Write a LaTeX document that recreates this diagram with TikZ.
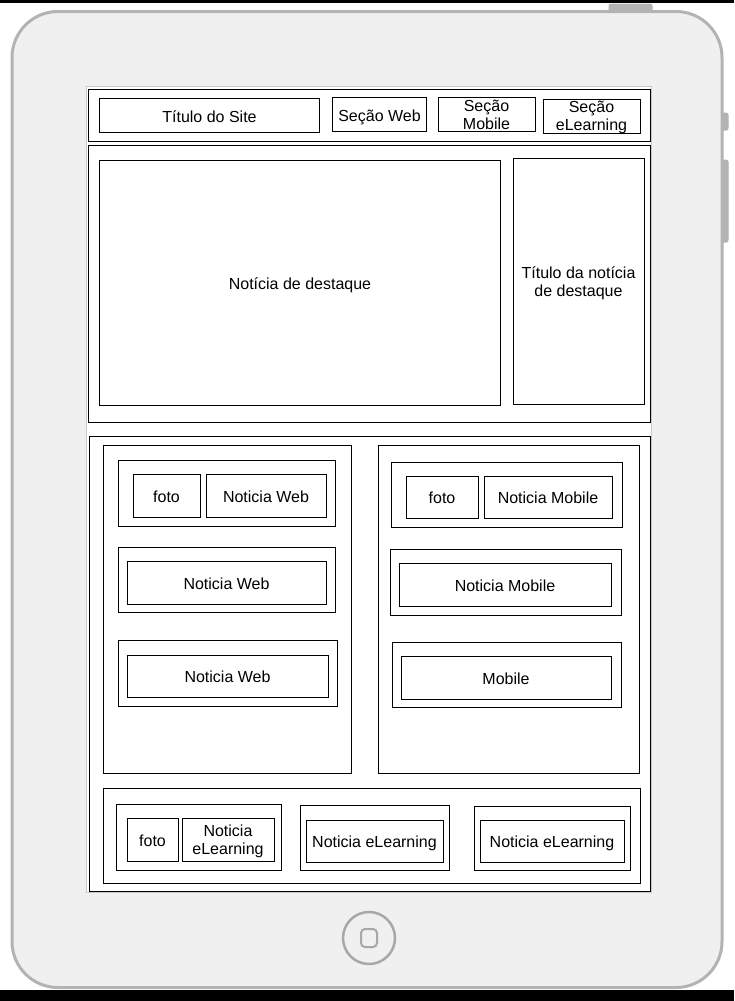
\documentclass[tikz,border=0pt]{standalone}
\usepackage{fontspec}
\setmainfont{Liberation Sans}
\usetikzlibrary{positioning}

\definecolor{padfill}{HTML}{F0F0F0}
\definecolor{padline}{HTML}{B3B3B3}
\definecolor{screenline}{HTML}{C8C8C8}
\definecolor{homeline}{HTML}{A8A8A8}

\begin{document}
\begin{tikzpicture}[x=1pt, y=-1pt, line width=1pt,
		box/.style={draw, anchor=north west, inner sep=0pt, align=center, font=\fontsize{16}{18}\selectfont, text height=14.5pt, text depth=1pt},
		twobox/.style={box, text height=, text depth=0pt},
		frame/.style={draw=black, line width=1pt},
		padpart/.style={fill=padline, draw=padline, rounded corners=2}]
				\useasboundingbox (0,0) rectangle (734,1001);
				\fill[white] (0,0) rectangle (734,1001);
				\fill[black] (0,0) rectangle (734,3);
				\fill[black] (0,990) rectangle (734,1001);

				% the device
				\draw[padpart] (609,4) rectangle (652,12);
				\draw[padpart] (718,113) rectangle (728,130);
				\draw[padpart] (718,160) rectangle (728,242);
				\draw[fill=padfill, draw=padline, line width=3pt, rounded corners=46] (12,11.5) rectangle (722,987.5);
				\draw[homeline, line width=2.5pt] (369,938) circle (26);
				\draw[homeline, line width=2pt, rounded corners=4] (361,929) rectangle (377,947);
				\draw[fill=white, draw=screenline] (86.5,86.5) rectangle (651.5,892.5);

				% header
				\draw[frame] (88.5,89) rectangle (650,141);
				\node[box, minimum width=220, minimum height=34] (site) at (99,98) {Título do Site};
				\node[box, minimum width=94, minimum height=34] (secweb) at (332,97) {Seção Web};
				\node[twobox, minimum width=97, minimum height=34] (secmobile) at (437.5,97) {Seção\\Mobile};
				\node[twobox, minimum width=97, minimum height=34] (secelearn) at (542.5,98.5) {Seção\\eLearning};

				% destaque
				\draw[frame] (88.5,145) rectangle (650.5,422);
				\node[box, minimum width=401, minimum height=245] (destaque) at (99,160) {Notícia de destaque};
				\node[twobox, minimum width=131, minimum height=246] (titdestaque) at (512.5,158) {Título da notícia\\de destaque};

				% noticias
				\draw[frame] (89,436) rectangle (650.5,891);
				\draw[frame] (103.5,445.5) rectangle (351.5,773.5);
				\draw[frame] (378.5,445.5) rectangle (639.5,773.5);

				\draw[frame] (118.5,460.5) rectangle (335.5,526.5);
				\node[box, minimum width=67, minimum height=43] (fotoweb) at (132.5,473.5) {foto};
				\node[box, minimum width=120, minimum height=43] (webone) at (205.5,473.5) {Noticia Web};
				\draw[frame] (118.5,547.5) rectangle (335.5,612.5);
				\node[box, minimum width=199, minimum height=43] (webtwo) at (126.5,560.5) {Noticia Web};
				\draw[frame] (118.5,640.5) rectangle (337.5,706.5);
				\node[box, minimum width=201, minimum height=42] (webthree) at (126.5,654.5) {Noticia Web};

				\draw[frame] (391.5,462.5) rectangle (622.5,527.5);
				\node[box, minimum width=72, minimum height=42] (fotomobile) at (405.5,475.5) {foto};
				\node[box, minimum width=128, minimum height=42] (mobileone) at (483.5,475.5) {Noticia Mobile};
				\draw[frame] (390.5,549.5) rectangle (621.5,615.5);
				\node[box, minimum width=212, minimum height=43] (mobiletwo) at (398.5,562.5) {Noticia Mobile};
				\draw[frame] (392.5,642.5) rectangle (621.5,707.5);
				\node[box, minimum width=210, minimum height=43] (mobilethree) at (400.5,655.5) {Mobile};

				\draw[frame] (103.5,788.5) rectangle (640.5,883.5);
				\draw[frame] (116.5,804.5) rectangle (281.5,870.5);
				\node[box, minimum width=51, minimum height=43] (fotoelearn) at (126.5,817.5) {foto};
				\node[twobox, minimum width=92, minimum height=43] (elearnone) at (181.5,817.5) {Noticia\\eLearning};
				\draw[frame] (300.5,805.5) rectangle (449.5,870.5);
				\node[box, minimum width=137, minimum height=42] (elearntwo) at (305.5,819.5) {Noticia eLearning};
				\draw[frame] (474.5,806.5) rectangle (630.5,870.5);
				\node[box, minimum width=144, minimum height=42] (elearnthree) at (479.5,819.5) {Noticia eLearning};
			\end{tikzpicture}
\end{document}
